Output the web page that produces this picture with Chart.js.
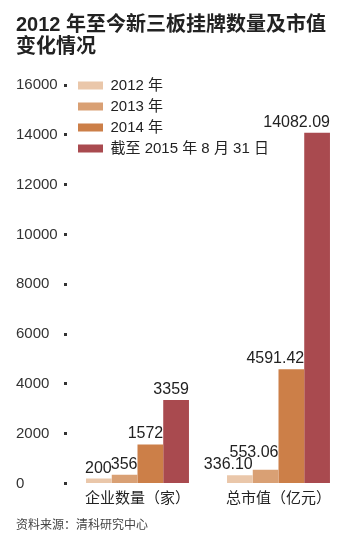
<!DOCTYPE html>
<html>
<head>
<meta charset="utf-8">
<script src="https://cdn.jsdelivr.net/npm/chart.js@4"></script>
<style>
  body { margin: 0; background: #fff; }
</style>
</head>
<body>
<canvas id="myChart" width="357" height="548"></canvas>
<script>
// 数据
const categories = ['企业数量（家）', '总市值（亿元）'];
const seriesNames = ['2012 年', '2013 年', '2014 年', '截至 2015 年 8 月 31 日'];
const values2012 = [200, 336.10];
const values2013 = [356, 553.06];
const values2014 = [1572, 4591.42];
const values2015 = [3359, 14082.09];
const decimals = [0, 2];
const yTicks = [0, 2000, 4000, 6000, 8000, 10000, 12000, 14000, 16000];

const colors = ['#eac7aa', '#d9a074', '#cc7f48', '#a94a4f'];
const fontFamily = '"Liberation Sans", "Noto Sans CJK SC", sans-serif';

// 柱顶数值（相邻重叠时往上挪）
const valueLabels = {
    id: 'valueLabels',
    afterDatasetsDraw(chart) {
        const ctx = chart.ctx;
        ctx.save();
        ctx.font = '16px ' + fontFamily;
        ctx.fillStyle = '#222';
        ctx.textAlign = 'right';
        ctx.textBaseline = 'alphabetic';
        chart.data.labels.forEach((c, j) => {
            let prev = null;
            chart.data.datasets.forEach((ds, i) => {
                const bar = chart.getDatasetMeta(i).data[j];
                const text = ds.data[j].toFixed(decimals[j]);
                const right = bar.x + bar.width / 2;
                const left = right - ctx.measureText(text).width;
                let y = bar.y - 6;
                if (prev && left < prev.right - 3 && y > prev.y - 12) {
                    y = prev.y - 12.5;
                }
                ctx.fillText(text, right, y);
                prev = { right, y };
            });
        });
        ctx.restore();
    }
};

// 图例放在图内左上
const moveLegend = {
    id: 'moveLegend',
    afterLayout(chart) {
        const area = chart.chartArea;
        const lg = chart.legend;
        const h = lg.bottom - lg.top;
        const w = lg.right - lg.left;
        lg.left = area.left + 5;
        lg.right = lg.left + w;
        lg.top = area.top - 13;
        lg.bottom = lg.top + h;
    }
};

new Chart(document.getElementById('myChart'), {
    type: 'bar',
    data: {
        labels: categories,
        datasets: seriesNames.map((name, i) => ({
            label: name,
            data: [values2012, values2013, values2014, values2015][i],
            backgroundColor: colors[i],
            categoryPercentage: 0.73,
            barPercentage: 1
        }))
    },
    options: {
        responsive: false,
        animation: false,
        devicePixelRatio: 1,
        layout: { padding: { left: 16, right: 8, top: 0, bottom: 15 } },
        plugins: {
            title: {
                display: true,
                text: ['2012 年至今新三板挂牌数量及市值', '变化情况'],
                align: 'start',
                color: '#222',
                font: { family: fontFamily, size: 20, weight: 'bold', lineHeight: 1.075 },
                padding: { top: 15, bottom: 27 }
            },
            subtitle: {
                display: true,
                position: 'bottom',
                text: '资料来源：清科研究中心',
                align: 'start',
                color: '#444',
                font: { family: fontFamily, size: 12, lineHeight: 1.2 },
                padding: { top: 5, bottom: 0 }
            },
            legend: {
                position: 'chartArea',
                align: 'start',
                labels: {
                    boxWidth: 25,
                    boxHeight: 8,
                    padding: 6,
                    color: '#222',
                    font: { family: fontFamily, size: 15 }
                }
            },
            tooltip: { enabled: false }
        },
        scales: {
            x: {
                grid: { display: false, drawTicks: false },
                border: { display: false },
                ticks: {
                    color: '#222',
                    padding: 6,
                    font: { family: fontFamily, size: 15 }
                }
            },
            y: {
                min: 0,
                max: 16000,
                afterBuildTicks(scale) {
                    scale.ticks = yTicks.map(v => ({ value: v }));
                },
                afterFit(scale) {
                    scale.width = 51;
                },
                grid: {
                    drawOnChartArea: false,
                    drawTicks: true,
                    tickLength: 3,
                    tickWidth: 3,
                    tickColor: '#333'
                },
                border: { display: false },
                ticks: {
                    crossAlign: 'far',
                    color: '#333',
                    font: { family: fontFamily, size: 15 },
                    callback: (v) => String(v)
                }
            }
        }
    },
    plugins: [valueLabels, moveLegend]
});
</script>
</body>
</html>
